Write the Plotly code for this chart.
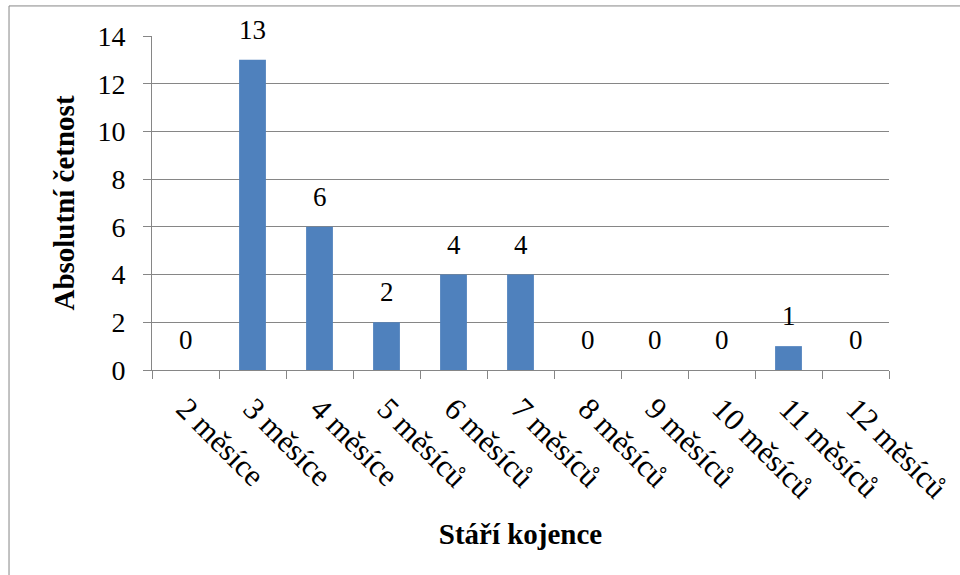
import plotly.graph_objects as go

categories = ["2 měsíce", "3 měsíce", "4 měsíce", "5 měsíců", "6 měsíců", "7 měsíců",
              "8 měsíců", "9 měsíců", "10 měsíců", "11 měsíců", "12 měsíců"]
counts = [0, 13, 6, 2, 4, 4, 0, 0, 0, 1, 0]
y_ticks = [0, 2, 4, 6, 8, 10, 12, 14]

FONT = "Liberation Serif"
BAR = "#4F81BD"
GRID = "#868686"

fig = go.Figure()
fig.add_trace(go.Bar(
    x=categories, y=counts, marker=dict(color=BAR, line=dict(width=0)),
    width=0.4, showlegend=False, hoverinfo="x+y",
))

# value labels above each bar
for c, v in zip(categories, counts):
    fig.add_annotation(x=c, y=v, text=str(v), showarrow=False,
                       yanchor="bottom", yshift=13,
                       font=dict(family=FONT, size=27, color="black"))

fig.update_layout(
    width=960, height=575,
    margin=dict(l=152, r=71, t=36, b=205),
    paper_bgcolor="white", plot_bgcolor="white",
    font=dict(family=FONT, color="black"),
    bargap=0.6,
    xaxis=dict(
        type="category", tickson="boundaries", ticks="outside", ticklen=8,
        tickcolor=GRID, tickwidth=1, showline=True, linecolor=GRID, linewidth=1,
        showgrid=False, tickangle=45, tickfont=dict(family=FONT, size=31),
        ticklabelstandoff=7, automargin=False,
        title=dict(text="<b>Stáří kojence</b>", font=dict(family=FONT, size=29), standoff=19),
    ),
    yaxis=dict(
        range=[0, 14], tickvals=y_ticks, ticks="outside", ticklen=8,
        tickcolor=GRID, tickwidth=1, showline=True, linecolor=GRID, linewidth=1,
        showgrid=True, gridcolor=GRID, gridwidth=1, zeroline=False,
        tickfont=dict(family=FONT, size=28), ticklabelstandoff=12, automargin=False,
        title=dict(text="<b>Absolutní četnost</b>", font=dict(family=FONT, size=29), standoff=14),
    ),
    # chart frame (left and top edges visible)
    shapes=[dict(type="rect", xref="paper", yref="paper",
                 x0=-0.194, x1=1.105, y0=-0.63, y1=1.09,
                 line=dict(color=GRID, width=1), fillcolor="rgba(0,0,0,0)", layer="below")],
)

fig.write_html("out.html")
